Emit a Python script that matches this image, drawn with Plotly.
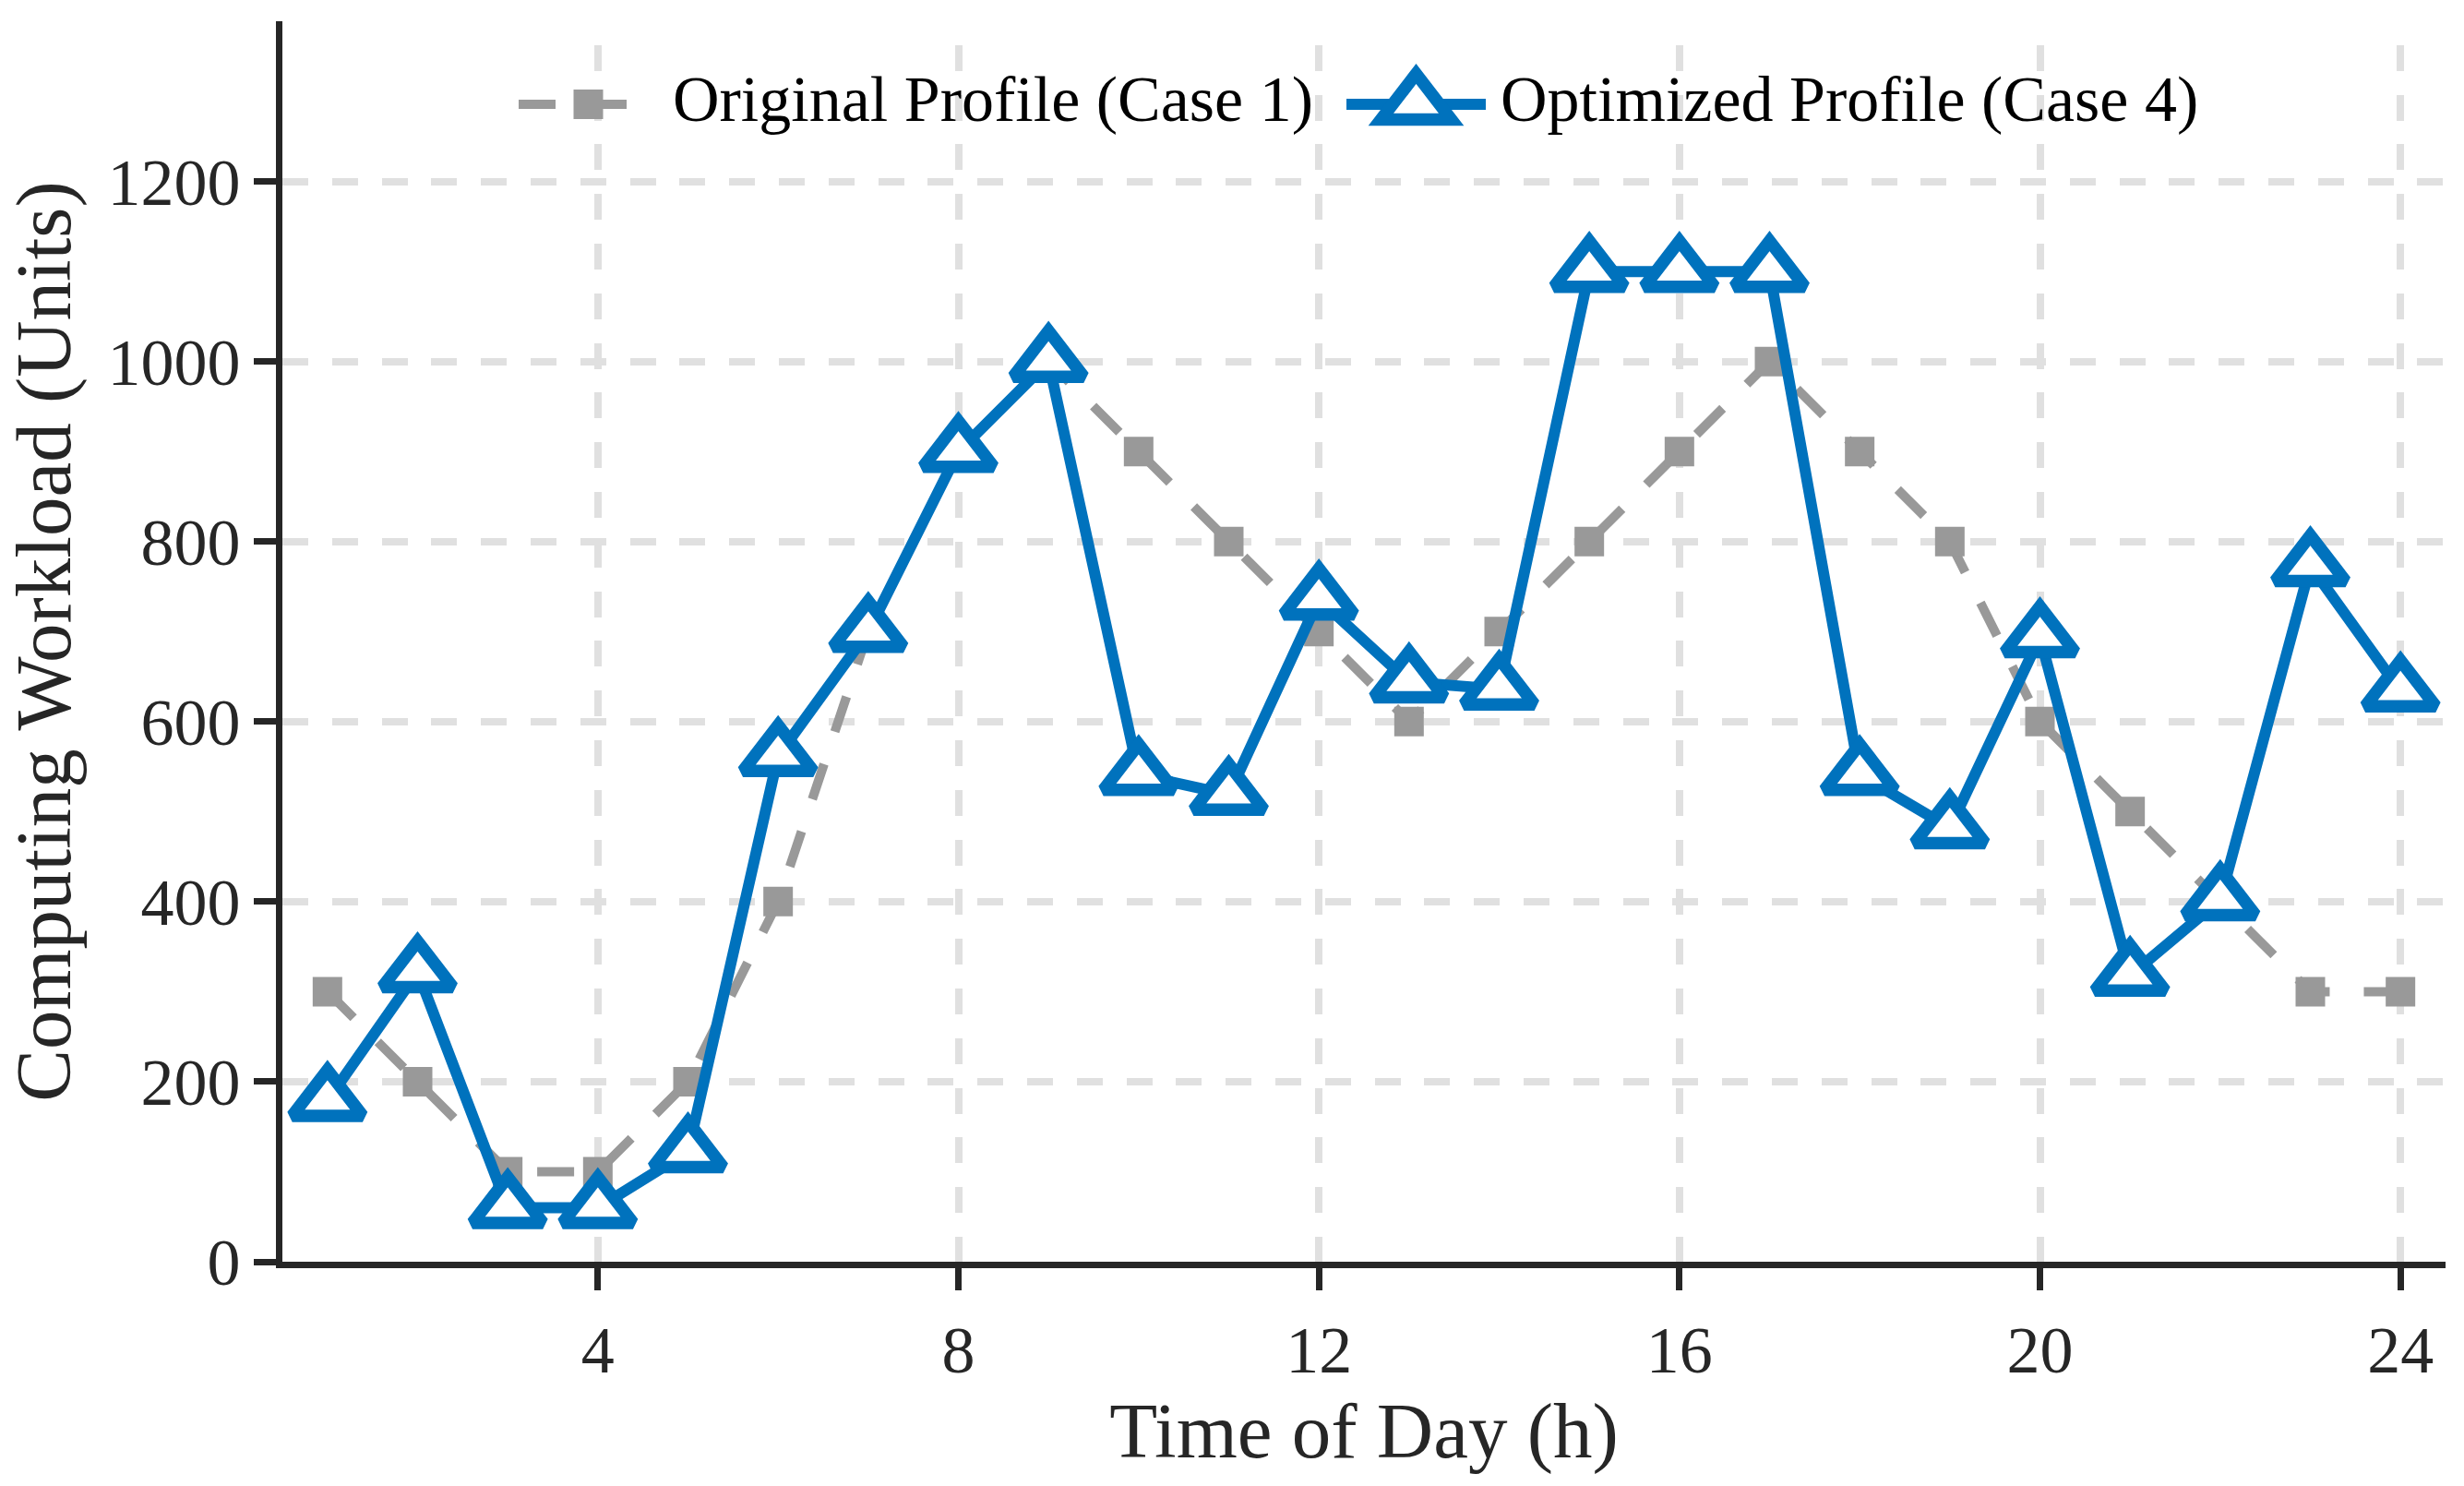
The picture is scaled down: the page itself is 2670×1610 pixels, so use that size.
import plotly.graph_objects as go

# ---------------- data ----------------
hours = list(range(1, 25))
original_profile = [300, 200, 100, 100, 200, 400, 700, 900, 1000, 900, 800, 700,
                    600, 700, 800, 900, 1000, 900, 800, 600, 500, 400, 300, 300]
optimized_profile = [179, 322, 60, 60, 122, 562, 700, 900, 1000, 541, 519, 736,
                     644, 636, 1100, 1100, 1100, 541, 482, 694, 318, 402, 773, 634]
x_ticks = [4, 8, 12, 16, 20, 24]
y_ticks = [0, 200, 400, 600, 800, 1000, 1200]
series_names = ["Original Profile (Case 1)", "Optimized Profile (Case 4)"]

# ---------------- style ----------------
W, H = 2670, 1610
L, R, T, B = 306, 2650, 23, 1367          # plot area in pixels
FONT = "Liberation Serif"
INK = "#262626"
GRAY = "#999999"
BLUE = "#0072BD"
GRID = "#e0e0e0"
GRAY_DASH = "40px,37px"

fig = go.Figure()
fig.add_trace(go.Scatter(
    x=hours, y=original_profile, name=series_names[0], mode="lines+markers",
    line=dict(color=GRAY, width=10, dash=GRAY_DASH),
    marker=dict(symbol="square", size=32, color=GRAY, line=dict(width=0)),
    showlegend=False))
fig.add_trace(go.Scatter(
    x=hours, y=optimized_profile, name=series_names[1], mode="lines+markers",
    line=dict(color=BLUE, width=12),
    marker=dict(symbol="triangle-up", size=66, color="white",
                line=dict(color=BLUE, width=13.5)),
    showlegend=False))

# ---------------- custom legend (decoration, pixel layout) ----------------
def px(xp):
    return (xp - L) / (R - L)

def py(yp):
    return (B - yp) / (B - T)

LEG_Y = 113
shapes = []
shapes.append(dict(type="line", xref="paper", yref="paper",
                   x0=px(562), x1=px(713), y0=py(LEG_Y), y1=py(LEG_Y),
                   line=dict(color=GRAY, width=10, dash=GRAY_DASH)))
sq = 16
cx = 637.5
shapes.append(dict(type="rect", xref="paper", yref="paper",
                   x0=px(cx - sq), x1=px(cx + sq), y0=py(LEG_Y + sq), y1=py(LEG_Y - sq),
                   fillcolor=GRAY, line=dict(width=0)))
shapes.append(dict(type="line", xref="paper", yref="paper",
                   x0=px(1459), x1=px(1610), y0=py(LEG_Y), y1=py(LEG_Y),
                   line=dict(color=BLUE, width=12)))
r = 33.0
rt = r * 2 / 3 ** 0.5
tcx = 1534.5
tri = "M{:.6f},{:.6f} L{:.6f},{:.6f} L{:.6f},{:.6f} Z".format(
    px(tcx - rt), py(LEG_Y + r / 2), px(tcx + rt), py(LEG_Y + r / 2), px(tcx), py(LEG_Y - r))
shapes.append(dict(type="path", xref="paper", yref="paper", path=tri,
                   fillcolor="white", line=dict(color=BLUE, width=13.5)))

TEXT_Y = 107
annotations = [
    dict(text=series_names[0], xref="paper", yref="paper", x=px(727), y=py(TEXT_Y),
         xanchor="left", yanchor="middle", showarrow=False,
         font=dict(family=FONT, size=70, color="#000000")),
    dict(text=series_names[1], xref="paper", yref="paper", x=px(1624), y=py(TEXT_Y),
         xanchor="left", yanchor="middle", showarrow=False,
         font=dict(family=FONT, size=70, color="#000000")),
]

axis_common = dict(
    showline=True, linewidth=7, linecolor=INK,
    ticks="outside", ticklen=24, tickwidth=7, tickcolor=INK,
    tickfont=dict(family=FONT, size=72, color=INK),
    showgrid=True, gridcolor=GRID, gridwidth=8,
    zeroline=False,
)

xaxis = dict(range=[0.5, 24.5], tickvals=x_ticks,
             griddash="0px,25.8px,28px,0px",
             title=dict(text="Time of Day (h)", font=dict(family=FONT, size=85, color=INK),
                        standoff=8),
             **axis_common)
yaxis = dict(range=[0, 1378], tickvals=y_ticks,
             griddash="28px,25.8px",
             title=dict(text="Computing Workload (Units)",
                        font=dict(family=FONT, size=85, color=INK), standoff=34),
             **axis_common)

fig.update_layout(
    width=W, height=H,
    margin=dict(l=L, r=W - R, t=T, b=H - B, pad=0),
    paper_bgcolor="white", plot_bgcolor="white",
    font=dict(family=FONT, color=INK),
    shapes=shapes, annotations=annotations,
    xaxis=xaxis, yaxis=yaxis,
)
try:
    fig.update_xaxes(ticklabelstandoff=3)
except Exception:
    pass

fig.write_html("out.html", config={"displayModeBar": False},
               post_script="document.body.style.margin='0';document.body.style.overflow='hidden';")
